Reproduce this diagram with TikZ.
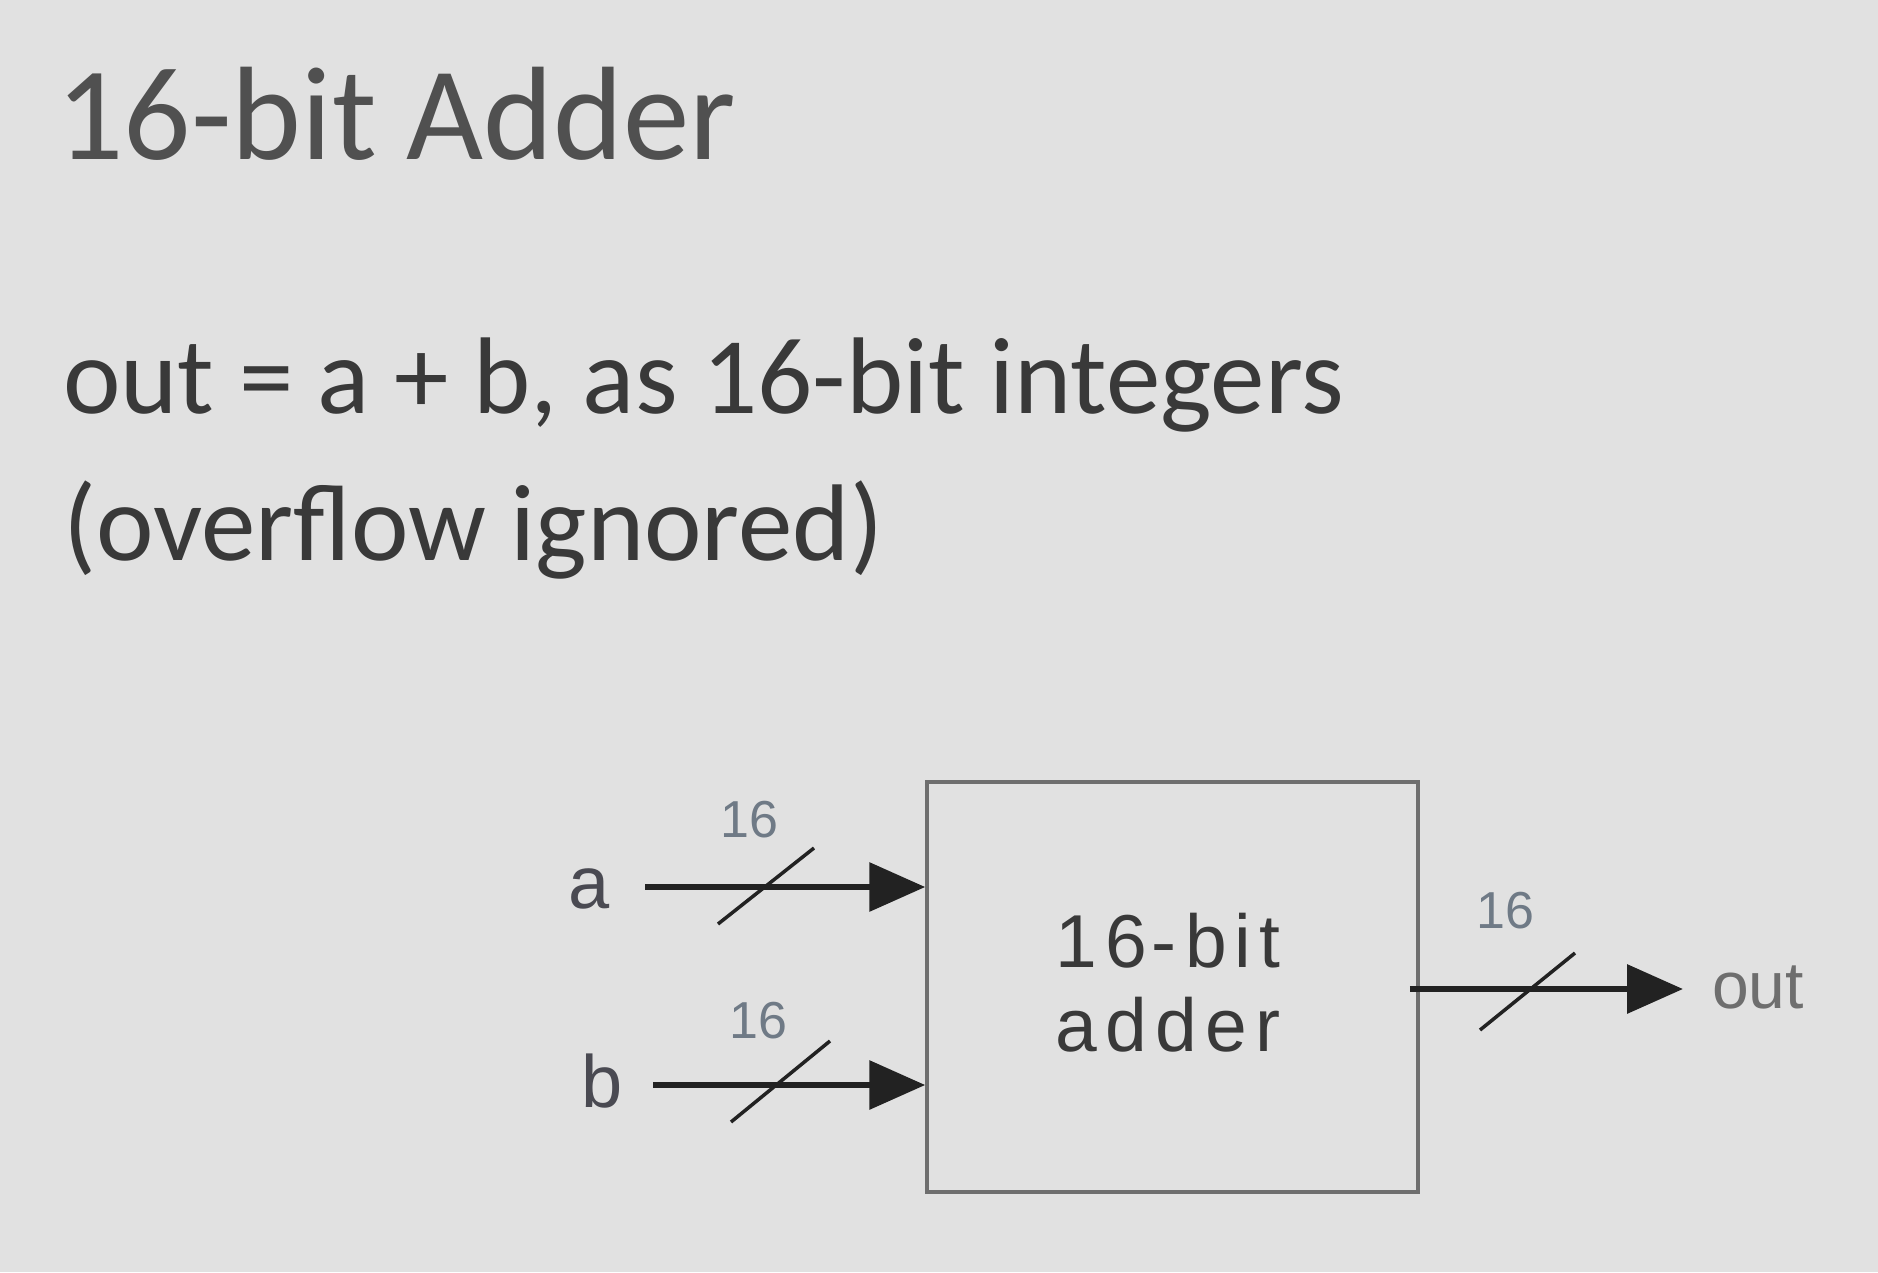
\documentclass[tikz,border=0pt]{standalone}
\usepackage{fontspec}
\setmainfont{Carlito}
\newfontfamily\arialfont{Liberation Sans}
\newfontfamily\boxfont[LetterSpace=11]{Liberation Sans}
\usetikzlibrary{arrows.meta}
\definecolor{bg}{HTML}{E1E1E1}
\definecolor{titlecol}{HTML}{505050}
\definecolor{bodycol}{HTML}{393939}
\definecolor{boxcol}{HTML}{6E6E6E}
\definecolor{wirecol}{HTML}{222222}
\definecolor{widthcol}{HTML}{6F7A86}
\definecolor{labcol}{HTML}{4A4A52}
\tikzset{
  txt/.style={inner sep=0pt, anchor=base west},
  bus/.style={draw=wirecol, line width=6.5pt, -{Triangle[length=56pt,width=48pt]}},
  slash/.style={draw=wirecol, line width=3.5pt},
  widthlab/.style={inner sep=0pt, anchor=base, text=widthcol, font=\arialfont\fontsize{52}{60}\selectfont},
  pinlab/.style={inner sep=0pt, anchor=base, text=labcol, font=\arialfont\fontsize{74}{80}\selectfont},
  adderbox/.style={draw=boxcol, line width=3.5pt, minimum width=491pt, minimum height=410pt, inner sep=0pt}
}
\begin{document}
\begin{tikzpicture}[x=1pt,y=-1pt]
\fill[bg] (0,0) rectangle (1878,1272);
\useasboundingbox (0,0) rectangle (1878,1272);
% texts
\node[txt, text=titlecol, font=\fontsize{133}{160}\selectfont] (title) at (56,159) {16-bit Adder};
\node[txt, text=bodycol, font=\fontsize{109}{127}\selectfont] (line1) at (63,413) {out = a + b, as 16-bit integers};
\node[txt, text=bodycol, font=\fontsize{109}{127}\selectfont] (line2) at (63,560) {(overflow ignored)};
% box
\node[adderbox] (adder) at (1172.5,987) {};
\node[inner sep=0pt, anchor=base, text=bodycol, font=\boxfont\fontsize{75}{84}\selectfont] (t1) at (1168,967) {16\kern5pt-bit};
\node[inner sep=0pt, anchor=base, text=bodycol, font=\boxfont\fontsize{75}{84}\selectfont] (t2) at (1168,1051) {adder};
% pins
\node[pinlab] (la) at (589,908) {a};
\node[pinlab] (lb) at (602,1107) {b};
\node[pinlab, text=boxcol, font=\arialfont\fontsize{66}{70}\selectfont] (lout) at (1758,1008) {out};
\coordinate (ain) at (645,887);
\coordinate (bin) at (653,1085);
\coordinate (oend) at (1683,989);
\draw[bus] (ain) -- (ain -| adder.west);
\draw[bus] (bin) -- (bin -| adder.west);
\draw[bus] (oend -| adder.east) ++(-10,0) -- (oend);
% slashes
\draw[slash] (718,924) -- (814,848);
\draw[slash] (731,1122) -- (830,1041);
\draw[slash] (1480,1030) -- (1575,953);
% widths
\node[widthlab] (wa) at (749,837) {16};
\node[widthlab] (wb) at (758,1038) {16};
\node[widthlab] (wo) at (1505,928) {16};
\end{tikzpicture}
\end{document}
